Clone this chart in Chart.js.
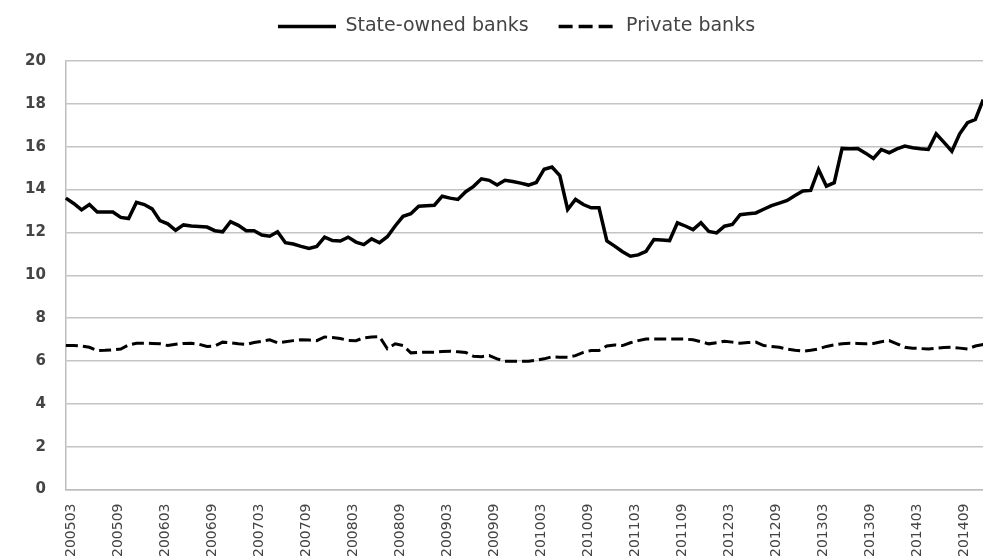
<!DOCTYPE html>
<html>
<head>
<meta charset="utf-8">
<script src="https://cdn.jsdelivr.net/npm/chart.js@4/dist/chart.umd.min.js"></script>
<style>
  html, body { margin: 0; padding: 0; background: #fff; overflow: hidden; }
  #wrap { width: 1006px; height: 563px; }
</style>
</head>
<body>
<div id="wrap"><canvas id="banks"></canvas></div>
<script>
  // monthly series, 2005m3 .. 2014m12
  let stateOwned = [
    13.6, 13.35, 13.05, 13.3, 12.95, 12.95, 12.95, 12.7, 12.65, 13.4,
    13.3, 13.1, 12.55, 12.4, 12.1, 12.35, 12.3, 12.28, 12.25, 12.08,
    12.03, 12.5, 12.33, 12.08, 12.08, 11.88, 11.82, 12.03, 11.52, 11.46,
    11.35, 11.25, 11.35, 11.78, 11.62, 11.6, 11.78, 11.55, 11.43, 11.7,
    11.52, 11.8, 12.3, 12.75, 12.87, 13.22, 13.25, 13.27, 13.69, 13.6,
    13.54, 13.9, 14.15, 14.5, 14.43, 14.21, 14.43, 14.38, 14.3, 14.21,
    14.33, 14.95, 15.05, 14.65, 13.07, 13.54, 13.3, 13.15, 13.15, 11.6,
    11.36, 11.1, 10.89, 10.95, 11.12, 11.67, 11.65, 11.62, 12.45, 12.3,
    12.13, 12.45, 12.05, 11.98, 12.29, 12.37, 12.83, 12.87, 12.91, 13.08,
    13.25, 13.37, 13.49, 13.72, 13.93, 13.96, 14.94, 14.16, 14.32, 15.92,
    15.9, 15.92, 15.7, 15.45, 15.87, 15.72, 15.9, 16.03, 15.95, 15.9,
    15.87, 16.6, 16.2, 15.79, 16.6, 17.12, 17.27, 18.2
  ];
  let privateBanks = [
    6.72, 6.72, 6.7, 6.64, 6.49, 6.5, 6.52, 6.56, 6.75, 6.83,
    6.83, 6.82, 6.8, 6.72, 6.78, 6.82, 6.83, 6.78, 6.68, 6.7,
    6.88, 6.85, 6.8, 6.77, 6.86, 6.92, 6.99, 6.85, 6.9, 6.95,
    6.99, 6.98, 6.95, 7.12, 7.1, 7.05, 6.96, 6.95, 7.08, 7.12,
    7.14, 6.57, 6.8, 6.72, 6.38, 6.4, 6.41, 6.41, 6.44, 6.46,
    6.43, 6.4, 6.22, 6.2, 6.25, 6.1, 5.99, 5.99, 5.99, 5.99,
    6.03, 6.1, 6.2, 6.18, 6.17, 6.25, 6.4, 6.49, 6.49, 6.7,
    6.75, 6.72, 6.85, 6.95, 7.03, 7.03, 7.03, 7.03, 7.03, 7.02,
    6.99, 6.9, 6.8, 6.85, 6.92, 6.88, 6.83, 6.86, 6.88, 6.72,
    6.68, 6.64, 6.55, 6.5, 6.46, 6.5, 6.56, 6.68, 6.75, 6.8,
    6.83, 6.82, 6.8, 6.82, 6.9, 6.95, 6.8, 6.64, 6.6, 6.58,
    6.56, 6.6, 6.63, 6.64, 6.6, 6.56, 6.7, 6.77
  ];

  // yyyymm category labels, only every 6th is printed
  let months = [];
  for (let i = 0; i < stateOwned.length; i++) {
    let m = 3 + i;
    let y = 2005 + Math.floor((m - 1) / 12);
    let mm = ((m - 1) % 12) + 1;
    months.push(String(y) + (mm < 10 ? '0' : '') + mm);
  }

  // a bit more room under the legend, and nudge it right
  let legendGap = {
    id: 'legendGap',
    beforeInit(chart) {
      let fit = chart.legend.fit;
      chart.legend.fit = function () {
        fit.call(this);
        this.height += 15;
      };
    },
    afterLayout(chart) {
      chart.legend.left += 22;
    }
  };

  let ctx = document.getElementById('banks').getContext('2d');
  let chart = new Chart(ctx, {
    type: 'line',
    data: {
      labels: months,
      datasets: [{
        label: 'State-owned banks',
        data: stateOwned,
        borderColor: '#000',
        backgroundColor: '#000',
        borderWidth: 3.5,
        pointRadius: 0,
        tension: 0
      }, {
        label: 'Private banks',
        data: privateBanks,
        borderColor: '#000',
        backgroundColor: '#000',
        borderWidth: 3,
        borderDash: [12, 5],
        pointRadius: 0,
        tension: 0
      }]
    },
    plugins: [legendGap],
    options: {
      responsive: true,
      maintainAspectRatio: false,
      animation: false,
      layout: { padding: { left: 5, right: 0, top: -13, bottom: 0 } },
      plugins: {
        tooltip: { enabled: false },
        legend: {
          position: 'top',
          labels: {
            usePointStyle: true,
            pointStyle: 'line',
            pointStyleWidth: 58,
            boxHeight: 10,
            padding: 30,
            color: '#444',
            font: { family: 'DejaVu Sans', size: 19 },
            generateLabels: function (chart) {
              let items = Chart.defaults.plugins.legend.labels.generateLabels(chart);
              items.forEach(function (item, i) {
                item.lineDash = i === 1 ? [14, 6] : [];
                item.lineWidth = 3.5;
              });
              return items;
            }
          }
        }
      },
      scales: {
        x: {
          offset: false,
          grid: { display: false },
          border: { display: true, color: '#bdbdbd', width: 1.5 },
          ticks: {
            autoSkip: false,
            maxRotation: 90,
            minRotation: 90,
            padding: 6,
            labelOffset: 5,
            color: '#444',
            font: { family: 'DejaVu Sans', size: 14 },
            callback: function (value, index) {
              return index % 6 === 0 ? months[index] : '';
            }
          }
        },
        y: {
          min: 0,
          max: 20,
          grid: { color: '#c4c4c4', lineWidth: 1.5, drawTicks: false },
          border: { display: true, color: '#bdbdbd', width: 1.5 },
          ticks: {
            stepSize: 2,
            padding: 20,
            color: '#444',
            font: { family: 'DejaVu Sans', size: 15, weight: 'bold' }
          }
        }
      }
    }
  });
</script>
</body>
</html>
